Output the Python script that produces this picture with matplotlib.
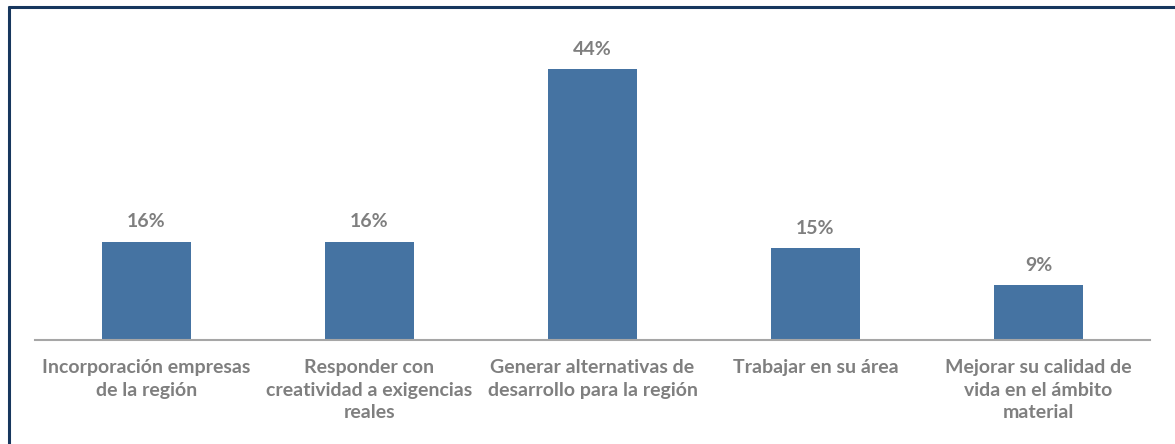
import matplotlib.pyplot as plt
from matplotlib.lines import Line2D

categorias = ["Incorporación empresas\nde la región",
              "Responder con\ncreatividad a exigencias\nreales",
              "Generar alternativas de\ndesarrollo para la región",
              "Trabajar en su área",
              "Mejorar su calidad de\nvida en el ámbito\nmaterial"]
valores = [16, 16, 44, 15, 9]

plt.rcParams['font.family'] = ['Lato', 'DejaVu Sans']

W, H = 1175, 444
fig = plt.figure(figsize=(W / 100, H / 100), dpi=100)
ax = fig.add_axes([35 / W, 1 - 340 / H, 1115 / W, 320 / H])

x = range(len(valores))
bars = ax.bar(x, valores, width=0.4, color='#4573A2')
ax.set_xlim(-0.5, len(valores) - 0.5)
ax.set_ylim(0, 52)

for b, v in zip(bars, valores):
    ax.annotate(f"{v}%", (b.get_x() + b.get_width() / 2, v), xytext=(0, 8),
                textcoords='offset points', ha='center', va='bottom',
                fontsize=14, fontweight='bold', color='#7F7F7F')

ax.set_xticks(list(x))
ax.set_xticklabels(categorias, fontsize=14, fontweight='bold', color='#7F7F7F',
                   linespacing=1.38)
ax.tick_params(axis='x', length=0, pad=14)
ax.set_yticks([])
for s in ['top', 'right', 'left']:
    ax.spines[s].set_visible(False)
ax.spines['bottom'].set_color('#A6A6A6')
ax.spines['bottom'].set_linewidth(1.5)

# marco exterior
c = '#17375E'
fig.add_artist(Line2D([8 / W, 1], [1 - 7 / H, 1 - 7 / H], color=c, lw=2.2,
                      transform=fig.transFigure, solid_capstyle='butt'))
fig.add_artist(Line2D([9 / W, 9 / W], [0, 1 - 6 / H], color=c, lw=2.2,
                      transform=fig.transFigure, solid_capstyle='butt'))

fig.savefig('out.png', dpi=100)
